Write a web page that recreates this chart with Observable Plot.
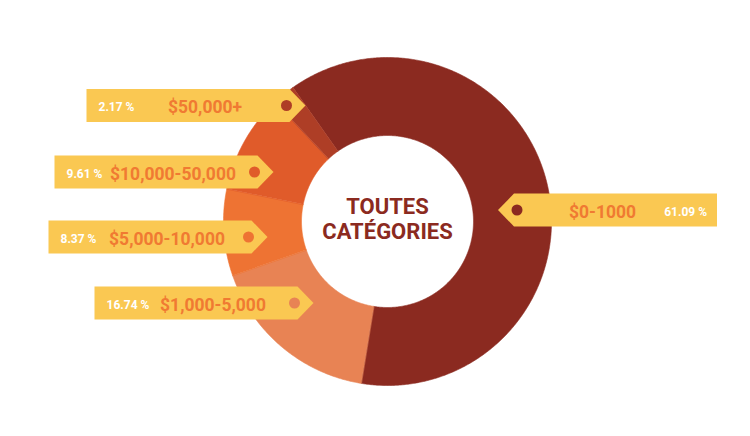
<!DOCTYPE html>
<html><head><meta charset="utf-8">
<script src="https://cdn.jsdelivr.net/npm/d3@7"></script>
<script src="https://cdn.jsdelivr.net/npm/@observablehq/plot@0.6"></script>
<style>body{margin:0;background:#fff;font-family:Roboto,sans-serif}</style>
</head><body><div id="chart"></div>
<script>
// ---- data ----
const categories = ["$0-1000", "$1,000-5,000", "$5,000-10,000", "$10,000-50,000", "$50,000+"];
const shares = [61.09, 16.74, 8.37, 9.61, 2.17];
const percentLabels = ["61.09 %", "16.74 %", "8.37 %", "9.61 %", "2.17 %"];
const centerTitle = "TOUTES\nCATÉGORIES";

// ---- style / layout ----
const colors = ["#8B2A20", "#E88354", "#EE7333", "#E05B2A", "#AE3E26"];
const tagYellow = "#FAC852";
const valueColor = "#F07A32";
const W = 750, H = 436, cx = 387, cy = 221, rOuter = 164, rInner = 86;
const startDeg = -35.2;
const tagW = 219, tagH = 33, tipD = 16;
const tagLayout = [
  {tipX: 497.5, y: 209.5, side: "right", valShift: -5},
  {tipX: 313, y: 302.5, side: "left", valShift: 9},
  {tipX: 267, y: 236.5, side: "left", valShift: 9},
  {tipX: 273, y: 171.5, side: "left", valShift: 9},
  {tipX: 305, y: 105, side: "left", valShift: 9}
];

const rad = Math.PI / 180;
const arcs = d3.pie().sort(null)
  .startAngle(startDeg * rad).endAngle((startDeg + 360) * rad)(shares);

const slicePts = [];
arcs.forEach((p, i) => {
  const n = Math.max(2, Math.ceil((p.endAngle - p.startAngle) / rad * 2));
  for (let k = 0; k <= n; k++) {
    const a = p.startAngle + (p.endAngle - p.startAngle) * k / n;
    slicePts.push({cat: categories[i], x: cx + rOuter * Math.sin(a), y: cy - rOuter * Math.cos(a)});
  }
  for (let k = n; k >= 0; k--) {
    const a = p.startAngle + (p.endAngle - p.startAngle) * k / n;
    slicePts.push({cat: categories[i], x: cx + rInner * Math.sin(a), y: cy - rInner * Math.cos(a)});
  }
});

const tags = categories.map((c, i) => {
  const L = tagLayout[i];
  const s = L.side === "left" ? 1 : -1;
  const tip = L.tipX, back = tip - s * tagW, neck = tip - s * tipD;
  const lo = Math.min(back, tip), hi = Math.max(back, tip);
  return {
    cat: c, pct: percentLabels[i], y: L.y, side: L.side,
    poly: [[back, L.y - tagH / 2], [neck, L.y - tagH / 2], [tip, L.y], [neck, L.y + tagH / 2], [back, L.y + tagH / 2]],
    dotX: tip - s * 19,
    pctX: L.side === "left" ? lo + 12 : hi - 10,
    valX: (lo + hi) / 2 + L.valShift
  };
});
const tagPts = tags.flatMap(t => t.poly.map(([x, y]) => ({cat: t.cat, x, y})));

const chart = Plot.plot({
  width: W, height: H, margin: 0,
  x: {domain: [0, W], range: [0, W], axis: null},
  y: {domain: [0, H], range: [0, H], axis: null},
  color: {domain: categories, range: colors},
  style: {fontFamily: "Roboto, sans-serif", background: "#fff"},
  marks: [
    Plot.line(slicePts, {x: "x", y: "y", z: "cat", fill: "cat", stroke: "cat", strokeWidth: 0.6, curve: "linear-closed"}),
    Plot.line(tagPts, {x: "x", y: "y", z: "cat", fill: tagYellow, stroke: "none", curve: "linear-closed"}),
    Plot.dot(tags, {x: "dotX", y: "y", r: 5.5, fill: "cat", stroke: "none"}),
    Plot.text(tags.filter(t => t.side === "left"), {x: "pctX", y: d => d.y + 2, text: "pct", fill: "#fff", fontSize: 12, fontWeight: "bold", textAnchor: "start"}),
    Plot.text(tags.filter(t => t.side === "right"), {x: "pctX", y: d => d.y + 2, text: "pct", fill: "#fff", fontSize: 12, fontWeight: "bold", textAnchor: "end"}),
    Plot.text(tags, {x: "valX", y: d => d.y + 2, text: "cat", fill: valueColor, fontSize: 17.5, fontWeight: "bold", textAnchor: "middle"}),
    Plot.text([centerTitle], {x: cx, y: 218, text: d => d, fill: "#8B2A20", fontSize: 22, fontWeight: "bold", lineHeight: 1.14, textAnchor: "middle"})
  ]
});
document.getElementById("chart").appendChild(chart);
</script>
</body></html>
